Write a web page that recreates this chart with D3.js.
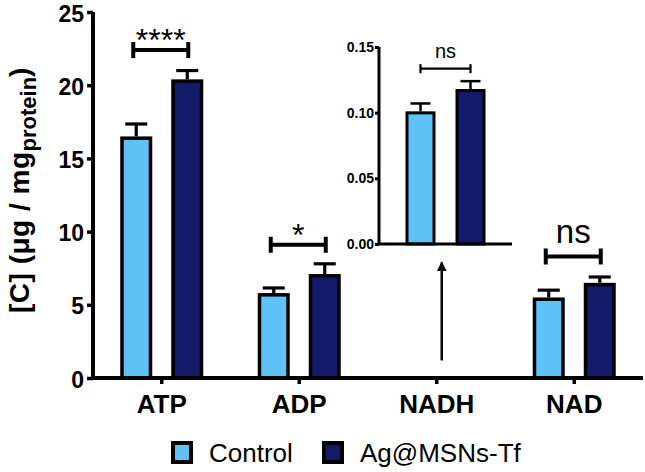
<!DOCTYPE html>
<html><head><meta charset="utf-8">
<script src="https://cdn.jsdelivr.net/npm/d3@7"></script>
<style>body{margin:0;background:#fff}svg{display:block;font-family:"Liberation Sans",Arial,sans-serif}</style>
</head><body>
<svg id="c" width="645" height="472"></svg>
<script>
const categories = ["ATP", "ADP", "NADH", "NAD"];
const series = ["Control", "Ag@MSNs-Tf"];
const controlValues = [16.5, 5.8, 0.101, 5.5];
const controlErrors = [0.85, 0.35, 0.006, 0.5];
const agValues = [20.4, 7.1, 0.118, 6.5];
const agErrors = [0.6, 0.7, 0.006, 0.4];
const yTicks = [0, 5, 10, 15, 20, 25];
const insetCategory = "NADH";
const insetTicks = [0.00, 0.05, 0.10, 0.15];
const significance = [
  {cat: "ATP", label: "****", level: 22.4},
  {cat: "ADP", label: "*", level: 9.1},
  {cat: "NAD", label: "ns", level: 8.3}
];
const insetSignificance = {label: "ns", level: 0.1335};
const colors = ["#5EC2F7", "#131A6A"];

const svg = d3.select("#c");
const values = [controlValues, agValues];
const errors = [controlErrors, agErrors];

const x0 = d3.scaleBand().domain(categories).range([93, 643]);
const x1 = d3.scaleBand().domain(series).range([0, x0.bandwidth()]).paddingInner(0.3725).paddingOuter(0.534);
const y = d3.scaleLinear().domain([0, 25]).range([378, 12]);

const SW = 3.5;
const data = [];
categories.forEach((c, i) => series.forEach((s, j) => data.push({c, s, j, v: values[j][i], e: errors[j][i]})));

// error bars (upper only)
const capW = 22;
const eb = svg.append("g").attr("stroke", "#000").attr("stroke-width", 3.2);
data.filter(d => d.c !== insetCategory).forEach(d => {
  const cx = x0(d.c) + x1(d.s) + x1.bandwidth() / 2;
  eb.append("line").attr("x1", cx).attr("x2", cx).attr("y1", y(d.v)).attr("y2", y(d.v + d.e));
  eb.append("line").attr("x1", cx - capW / 2).attr("x2", cx + capW / 2).attr("y1", y(d.v + d.e)).attr("y2", y(d.v + d.e));
});

// bars
svg.append("g").selectAll("rect").data(data).join("rect")
  .attr("x", d => x0(d.c) + x1(d.s) + SW / 2)
  .attr("width", x1.bandwidth() - SW)
  .attr("y", d => y(d.v) + SW / 2 - (d.c === insetCategory ? 2 : 0))
  .attr("height", d => Math.max(0, y(0) - y(d.v) - SW / 2))
  .attr("fill", d => colors[d.j])
  .attr("stroke", "#000").attr("stroke-width", SW);

// axes
const yAxis = svg.append("g").attr("transform", "translate(93,0)")
  .call(d3.axisLeft(y).tickValues(yTicks).tickSize(6).tickFormat(d3.format("d")));
yAxis.select(".domain").attr("stroke-width", 4).attr("d", `M0,${y(0)}V${y(25)}`);
yAxis.selectAll(".tick line").attr("stroke-width", 3.5);
yAxis.selectAll(".tick text").attr("x", -9).attr("dy", 9).attr("font-size", 23).attr("font-weight", "bold").attr("fill", "#000").attr("font-family", "Liberation Sans, Arial, sans-serif");

const xAxis = svg.append("g").attr("transform", `translate(0,${y(0)})`)
  .call(d3.axisBottom(x0).tickSize(6));
xAxis.select(".domain").attr("stroke-width", 4).attr("d", `M91,0H643`);
xAxis.selectAll(".tick line").attr("stroke-width", 3.5);
xAxis.selectAll(".tick text").attr("y", 17).attr("dy", "0.71em").attr("font-size", 26).attr("font-weight", "bold").attr("fill", "#000").attr("font-family", "Liberation Sans, Arial, sans-serif");

// y label
svg.append("text").attr("transform", "translate(29,313) rotate(-90)")
  .attr("text-anchor", "start").attr("font-size", 28).attr("font-weight", "bold")
  .call(t => {
    t.append("tspan").attr("letter-spacing", 0.5).text("[C] (μg / mg");
    t.append("tspan").attr("font-size", 22).attr("dy", 7).text("protein");
    t.append("tspan").attr("dy", -7).text(")");
  });

// significance brackets
function bracket(g, xa, xb, yy, cap, sw) {
  g.append("line").attr("x1", xa).attr("x2", xb).attr("y1", yy).attr("y2", yy).attr("stroke", "#000").attr("stroke-width", sw);
  [xa, xb].forEach(xx => g.append("line").attr("x1", xx).attr("x2", xx).attr("y1", yy - cap / 2).attr("y2", yy + cap / 2).attr("stroke", "#000").attr("stroke-width", sw));
}
const sg = svg.append("g");
significance.forEach(s => {
  const xa = x0(s.cat) + x1(series[0]) + x1.bandwidth() / 2 - 3;
  const xb = x0(s.cat) + x1(series[1]) + x1.bandwidth() / 2 + 1;
  const yy = y(s.level);
  bracket(sg, xa, xb, yy, 16, 4);
  const isStar = s.label.includes("*");
  sg.append("text").attr("x", (xa + xb) / 2).attr("y", isStar ? yy + 1 : yy - 13)
    .attr("text-anchor", "middle").attr("font-size", isStar ? 32 : 33).text(s.label);
});

// arrow
const ax = x0(insetCategory) + x0.bandwidth() / 2 + 5;
svg.append("defs").append("marker").attr("id", "ah").attr("viewBox", "0 0 10 10").attr("refX", 9).attr("refY", 5)
  .attr("markerWidth", 4).attr("markerHeight", 5).attr("orient", "auto")
  .append("path").attr("d", "M0,0L10,5L0,10Z").attr("fill", "#000");
svg.append("line").attr("x1", ax).attr("x2", ax).attr("y1", y(1.2)).attr("y2", y(7.9))
  .attr("stroke", "#000").attr("stroke-width", 2.5).attr("marker-end", "url(#ah)");

// inset
const ci = categories.indexOf(insetCategory);
const ix = d3.scaleBand().domain(series).range([379, 512]).paddingInner(0.4).paddingOuter(0.53);
const iy = d3.scaleLinear().domain([0, 0.15]).range([244, 47]);
const ig = svg.append("g");
const iw = 3;
series.forEach((s, j) => {
  const cx = ix(s) + ix.bandwidth() / 2;
  const v = values[j][ci], e = errors[j][ci];
  ig.append("line").attr("x1", cx).attr("x2", cx).attr("y1", iy(v)).attr("y2", iy(v + e)).attr("stroke", "#000").attr("stroke-width", 2.5);
  ig.append("line").attr("x1", cx - 10).attr("x2", cx + 10).attr("y1", iy(v + e)).attr("y2", iy(v + e)).attr("stroke", "#000").attr("stroke-width", 2.5);
  ig.append("rect").attr("x", ix(s) + iw / 2).attr("width", ix.bandwidth() - iw)
    .attr("y", iy(v) + iw / 2).attr("height", iy(0) - iy(v) - iw / 2)
    .attr("fill", colors[j]).attr("stroke", "#000").attr("stroke-width", iw);
});
const iyAxis = ig.append("g").attr("transform", "translate(379,0)")
  .call(d3.axisLeft(iy).tickValues(insetTicks).tickSize(4).tickFormat(d3.format(".2f")));
iyAxis.select(".domain").attr("stroke-width", 3).attr("d", `M0,${iy(0)}V${iy(0.15)}`);
iyAxis.selectAll(".tick line").attr("stroke-width", 3);
iyAxis.selectAll(".tick text").attr("x", -5).attr("font-size", 14).attr("font-weight", "bold").attr("fill", "#000").attr("font-family", "Liberation Sans, Arial, sans-serif");
ig.append("line").attr("x1", 377.5).attr("x2", 512).attr("y1", iy(0)).attr("y2", iy(0)).attr("stroke", "#000").attr("stroke-width", 3);
{
  const xa = ix(series[0]) + ix.bandwidth() / 2;
  const xb = ix(series[1]) + ix.bandwidth() / 2;
  const yy = iy(insetSignificance.level);
  bracket(ig, xa, xb, yy, 9, 2.2);
  ig.append("text").attr("x", (xa + xb) / 2).attr("y", yy - 11).attr("text-anchor", "middle").attr("font-size", 20).text(insetSignificance.label);
}

// legend
const lg = svg.append("g");
const legendX = [171, 322];
series.forEach((s, j) => {
  lg.append("rect").attr("x", legendX[j] + 2).attr("y", 443).attr("width", 18).attr("height", 19)
    .attr("fill", colors[j]).attr("stroke", "#000").attr("stroke-width", 4);
  lg.append("text").attr("x", legendX[j] + 38).attr("y", 462).attr("font-size", 26).text(s);
});
</script>
</body></html>
